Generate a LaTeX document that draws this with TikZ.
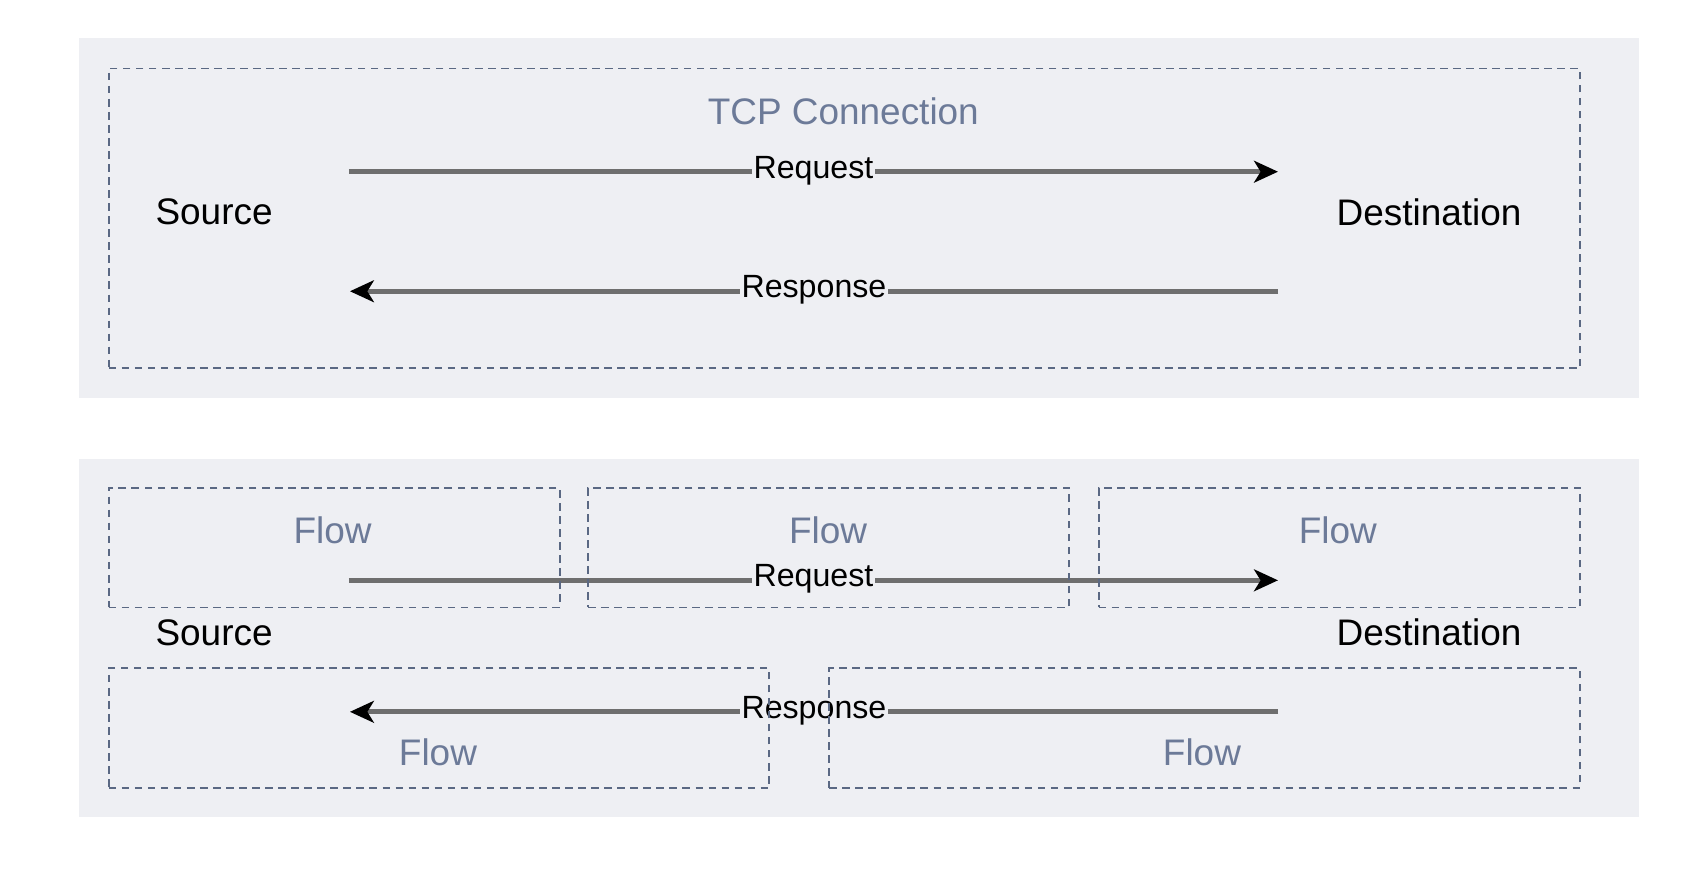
\documentclass[tikz,border=0pt]{standalone}
\usepackage{fontspec}
\setmainfont{Liberation Sans}
\usetikzlibrary{arrows.meta}
\definecolor{panel}{HTML}{EEEFF3}
\definecolor{dashc}{HTML}{5A6883}
\definecolor{flowc}{HTML}{6C7A98}
\definecolor{linec}{HTML}{6E6E6E}
\begin{document}
\begin{tikzpicture}[x=0.5pt,y=-0.5pt,
  panelbox/.style={fill=panel,draw=none,inner sep=0pt,outer sep=0pt},
  dashbox/.style={draw=dashc,dash pattern=on 3.5pt off 2.5pt,line width=0.85pt,inner sep=0pt,outer sep=0pt},
  endtext/.style={font=\fontsize{17}{20}\selectfont,text=black,inner sep=0pt},
  flowtext/.style={font=\fontsize{17}{20}\selectfont,text=flowc,inner sep=0pt},
  lbl/.style={font=\fontsize{14.8}{17}\selectfont,text=black,fill=panel,inner sep=0.6pt,anchor=base,yshift=-3pt},
  conn/.style={draw=linec,line width=2.4pt,-{Stealth[length=11pt,width=10pt,inset=3pt,color=black]}}
]
\useasboundingbox (0,0) rectangle (1568,804);

% ---------- top panel ----------
\node[panelbox,minimum width=717.5pt,minimum height=165.5pt] (toppanel) at (790.5,200.5) {};
\coordinate (rqAs) at (321,158);
\coordinate (rqAe) at (1176,158);
\coordinate (rsAs) at (1176,268);
\coordinate (rsAe) at (322,268);
\draw[conn] (rqAs) -- node[lbl] (rqAl) {Request} (rqAe);
\draw[conn] (rsAs) -- node[lbl] (rsAl) {Response} (rsAe);
\node[dashbox,minimum width=677pt,minimum height=138pt] (tcpbox) at (777,201) {};
\node[flowtext] (tcptitle) at (776,102) {TCP Connection};
\node[endtext] (src1) at (197,195) {Source};
\node[endtext] (dst1) at (1315,195) {Destination};

% ---------- bottom panel ----------
\node[panelbox,minimum width=717.5pt,minimum height=165pt] (botpanel) at (790.5,587) {};
\coordinate (rqBs) at (321,534);
\coordinate (rqBe) at (1176,534);
\coordinate (rsBs) at (1176,655);
\coordinate (rsBe) at (322,655);
\draw[conn] (rqBs) -- node[lbl] (rqBl) {Request} (rqBe);
\draw[conn] (rsBs) -- node[lbl] (rsBl) {Response} (rsBe);
\node[dashbox,minimum width=207.5pt,minimum height=55pt] (flowA) at (307.5,504) {};
\node[dashbox,minimum width=221.5pt,minimum height=55pt] (flowB) at (762.5,504) {};
\node[dashbox,minimum width=221.5pt,minimum height=55pt] (flowC) at (1232.5,504) {};
\node[dashbox,minimum width=304pt,minimum height=55pt] (flowD) at (404,670) {};
\node[dashbox,minimum width=345.5pt,minimum height=55pt] (flowE) at (1108.5,670) {};
\node[flowtext] (flowAt) at (306,488) {Flow};
\node[flowtext] (flowBt) at (762,488) {Flow};
\node[flowtext] (flowCt) at (1231,488) {Flow};
\node[flowtext] (flowDt) at (403,692) {Flow};
\node[flowtext] (flowEt) at (1106,692) {Flow};
\node[endtext] (src2) at (197,582) {Source};
\node[endtext] (dst2) at (1315,582) {Destination};
\end{tikzpicture}
\end{document}
